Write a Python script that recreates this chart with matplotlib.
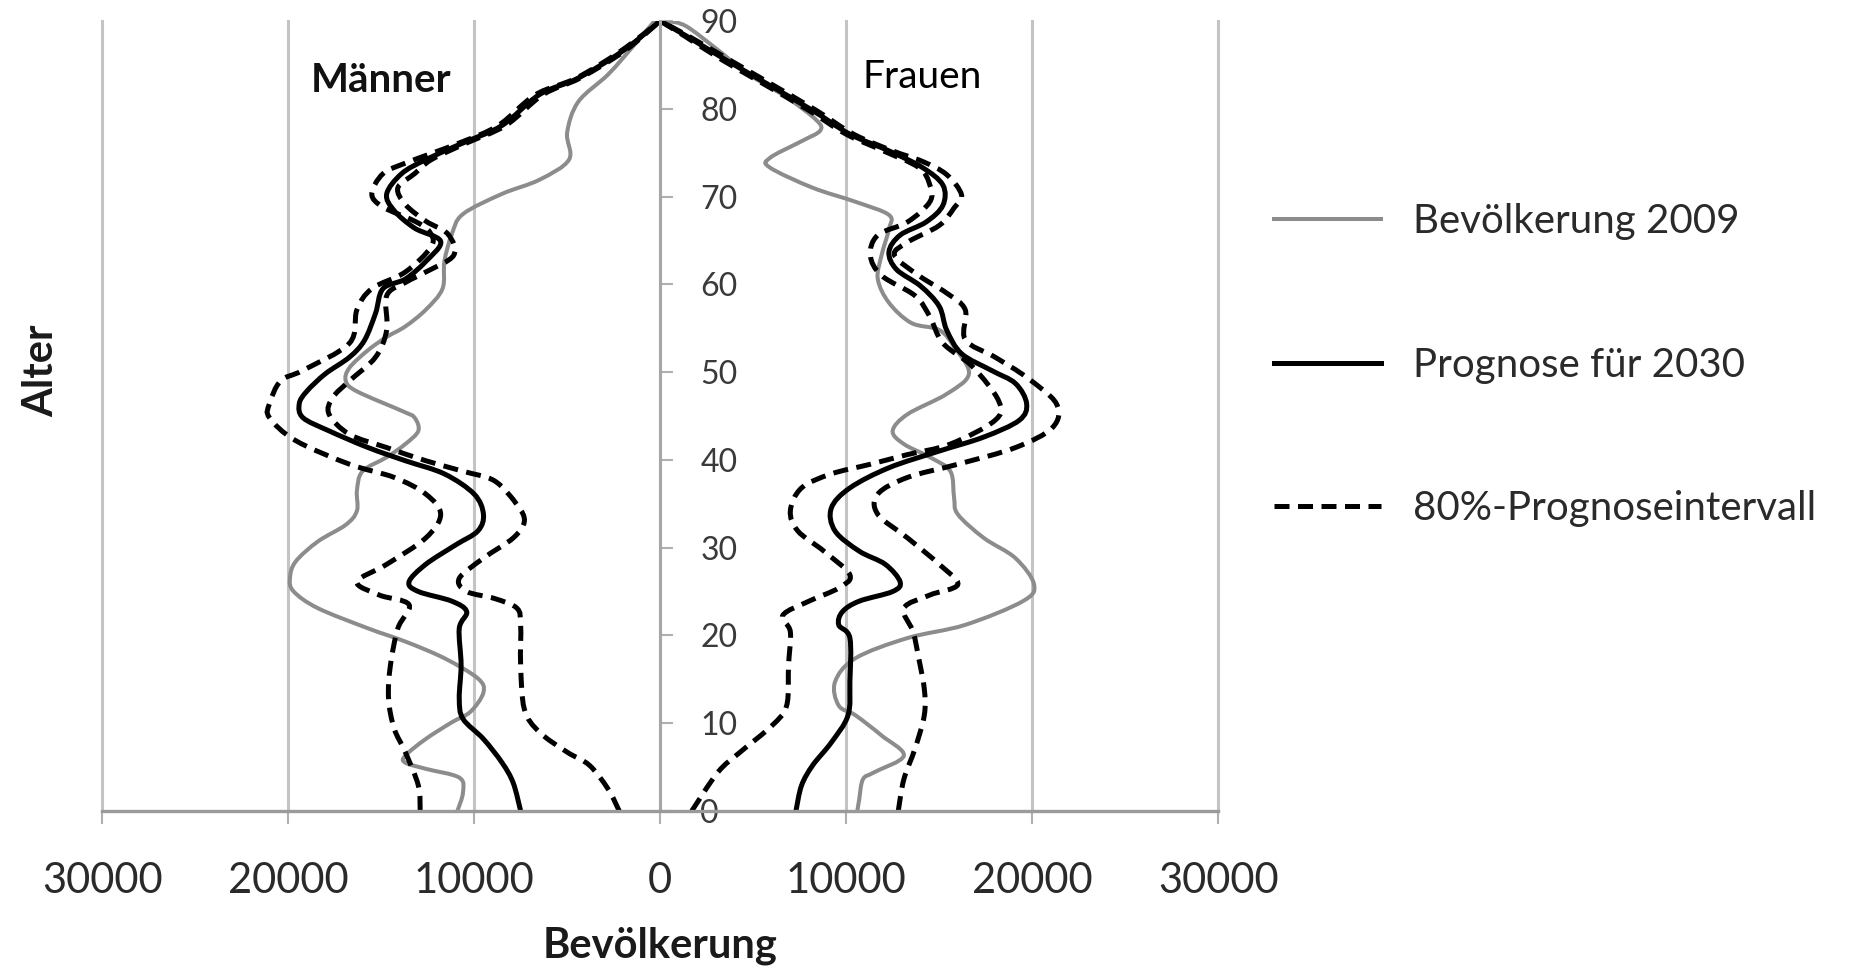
import matplotlib
matplotlib.use("Agg")
import matplotlib.pyplot as plt
from matplotlib.lines import Line2D
from matplotlib.patches import PathPatch
from matplotlib.path import Path
from matplotlib.ticker import FuncFormatter

plt.rcParams["font.family"] = ["Lato", "DejaVu Sans"]

# values in 1000 persons, ages in years
# Männer
m_2009_age = [0, 2.1, 3.8, 4.8, 5.5, 6.3, 8.2, 10.1, 11.3, 13.5, 15.1, 17.4, 19.3, 20.8, 23.1, 25, 26.5,
              28.4, 30.7, 32.6, 34.2, 36.5, 38.7, 40.3, 41.8, 43.3, 44.8, 45.5, 47.8, 49, 50.5, 52.5,
              54, 55.2, 57.1, 59.5, 62.6, 65.7, 68, 70.3, 71.9, 74.2, 77.3, 80.8, 83.9, 87, 90]
m_2009_val = [10.9, 10.6, 10.8, 12.6, 13.7, 13.7, 12.6, 11.2, 10.2, 9.5, 9.8, 11.6, 13.7, 15.7, 18.4, 19.7, 19.9,
              19.6, 18.4, 16.9, 16.3, 16.3, 16.0, 14.7, 13.7, 13.0, 13.2, 13.8, 16.3, 16.9, 16.7, 15.7,
              14.7, 13.7, 12.6, 11.7, 11.6, 11.2, 10.6, 8.5, 6.5, 4.9, 5.0, 4.4, 2.8, 1.5, 0.3]

m_2030_age = [0, 3.2, 5.5, 8.2, 10.5, 12.8, 16.6, 20.8, 22.7, 23.9, 25, 26.1, 28.1, 30.3, 31.9, 33.8,
              36.1, 38.4, 39.9, 41.4, 43.3, 44.8, 46.4, 47.8, 49.8, 51.7, 53.6, 56.7, 59.5, 60.6, 62.6,
              64.9, 66.4, 68.4, 70.3, 72.6, 74.2, 76.1, 78.1, 81.6, 83.5, 86.6, 90]
m_2030_val = [7.5, 7.9, 8.5, 9.5, 10.6, 10.8, 10.7, 10.8, 10.4, 11.2, 13.0, 13.5, 12.6, 11.0, 9.8, 9.5,
              10.0, 11.6, 13.7, 15.7, 17.8, 19.2, 19.4, 19.0, 18.0, 16.7, 15.9, 15.3, 14.9, 13.7, 12.6,
              11.8, 13.2, 14.3, 14.7, 13.9, 12.6, 10.6, 8.5, 6.5, 4.4, 2.0, 0]

m_low_age = [0, 2.5, 5.2, 6.7, 9.0, 11.6, 16.6, 21.2, 23.1, 24.2, 25, 26.5, 28.8, 31.1, 33, 34.9, 37.6,
             38.7, 39.9, 41.4, 42.9, 45.2, 47.1, 49, 51.7, 54.8, 58.7, 60.2, 61.4, 63.3, 65.7, 67.2,
             69.1, 71, 72.6, 74.2, 76.1, 78.1, 81.6, 83.5, 86.6, 90]
m_low_val = [2.2, 2.8, 3.8, 5.0, 6.5, 7.3, 7.5, 7.5, 7.7, 8.9, 10.4, 10.8, 9.5, 7.9, 7.3, 7.7, 8.9,
             10.6, 12.6, 14.7, 16.7, 17.8, 17.6, 16.7, 15.3, 14.7, 14.7, 13.7, 12.6, 11.1, 11.4, 12.6,
             13.7, 14.1, 13.2, 12.3, 10.4, 8.3, 6.3, 4.3, 1.9, 0]

m_high_age = [0, 2.9, 6.7, 9.4, 12.8, 16.6, 20.8, 23.5, 24.6, 26.1, 28.1, 31.1, 33.8, 36.1, 38, 39.5,
              42.2, 44.8, 46.4, 49, 50.2, 53.3, 57.1, 59.5, 61.4, 64.3, 66, 67.2, 68.8, 70.3, 72.6,
              73.8, 76.1, 78.1, 81.6, 83.5, 86.6, 90]
m_high_val = [12.9, 13.0, 13.7, 14.3, 14.6, 14.5, 14.1, 13.5, 15.1, 16.3, 14.7, 12.6, 11.8, 12.6, 14.3, 16.7,
              19.6, 21.0, 21.0, 20.4, 19.2, 16.7, 16.3, 15.5, 13.7, 12.3, 12.4, 13.2, 14.9, 15.5, 14.9,
              13.7, 10.8, 8.7, 6.7, 4.5, 2.1, 0]

# Frauen
f_2009_age = [0, 1.3, 3.6, 4.4, 6.3, 8.6, 10.9, 12, 14.7, 17.4, 19.7, 21.2, 23.9, 25.8, 28.8, 31.1,
              33.8, 35.7, 38.7, 40.3, 41.8, 43.3, 45.2, 47.5, 49.8, 52.9, 54.8, 55.6, 57.9, 60.6, 63.3,
              66.3, 67.9, 69.4, 71, 73.3, 74.4, 76.3, 77.5, 78.7, 81.3, 84, 86.7, 89.4, 90]
f_2009_val = [10.6, 10.7, 10.9, 11.5, 13.1, 11.9, 10.5, 9.6, 9.4, 10.5, 13.3, 16.4, 19.5, 20.1, 19.1, 17.4,
              16.0, 15.8, 15.6, 14.5, 13.1, 12.5, 13.3, 15.4, 16.6, 15.8, 15.0, 13.5, 12.3, 11.7, 11.9,
              12.3, 12.3, 10.5, 8.2, 5.9, 5.9, 7.6, 8.6, 8.4, 6.8, 4.7, 3.1, 1.4, 0.4]

f_2030_age = [0, 2.9, 5.2, 7.8, 10.9, 14.7, 19.7, 21.2, 22.7, 23.9, 25, 26.1, 28.1, 29.6, 31.9, 34.5,
              36.8, 39.1, 41, 42.6, 44.5, 46.4, 48.7, 50.2, 52.1, 54.8, 57.5, 59.8, 61.7, 63.7, 65.6,
              67.1, 69, 71.3, 73.3, 75.2, 77.1, 79.8, 82.9, 85.6, 88.3, 90]
f_2030_val = [7.3, 7.6, 8.2, 9.2, 10.1, 10.2, 10.2, 9.6, 9.8, 10.7, 12.5, 12.9, 12.1, 10.7, 9.4, 9.2,
              10.2, 12.3, 15.0, 17.4, 19.3, 19.7, 19.1, 17.8, 16.2, 15.4, 15.0, 14.0, 12.7, 12.3, 12.9,
              14.3, 15.2, 15.2, 14.1, 12.3, 10.2, 8.2, 5.7, 3.5, 1.4, 0]

f_low_age = [0, 4.4, 6.7, 9.7, 12, 16.6, 20.4, 22.3, 23.9, 25.4, 26.9, 29.6, 31.9, 34.2, 36.8, 38.4,
             39.5, 40.6, 41.8, 44.5, 46.7, 50.6, 53.3, 56.3, 58.7, 61, 63.3, 65.6, 67.1, 69.4, 71.3,
             73.3, 75.2, 77.1, 79.8, 82.9, 85.6, 88.3, 90]
f_low_val = [1.7, 3.1, 4.3, 6.0, 6.8, 6.9, 7.0, 6.6, 8.0, 9.6, 10.2, 8.8, 7.4, 7.0, 7.6, 9.2,
             11.3, 13.3, 15.6, 18.0, 18.2, 16.8, 15.2, 14.5, 13.7, 11.9, 11.3, 11.7, 13.3, 14.5, 14.5,
             13.9, 12.0, 10.0, 8.0, 5.5, 3.3, 1.3, 0]

f_high_age = [0, 3.6, 7.1, 10.9, 13.9, 17.4, 20.4, 23.1, 24.6, 25.8, 28.1, 31.1, 33.8, 36.1, 38, 39.5,
              41.4, 43.7, 46.4, 49.4, 51.7, 53.7, 57.1, 59, 61, 63.3, 64.8, 66.7, 68.7, 70.2, 72.5,
              74, 75.2, 77.1, 79.8, 82.9, 85.6, 88.3, 90]
f_high_val = [12.8, 13.1, 13.7, 14.2, 14.2, 13.9, 13.6, 13.1, 14.5, 16.0, 15.0, 13.3, 11.7, 11.7, 13.3, 16.0,
              19.1, 21.1, 21.3, 19.7, 18.0, 16.4, 16.4, 15.4, 13.9, 12.6, 13.3, 15.0, 15.8, 16.2, 15.4,
              14.1, 12.5, 10.4, 8.4, 5.9, 3.7, 1.5, 0]

age_ticks = list(range(0, 91, 10))
pop_ticks = [-30000, -20000, -10000, 0, 10000, 20000, 30000]
labels = ["Bevölkerung 2009", "Prognose für 2030", "80%-Prognoseintervall"]


def men(vals):
    return [-v * 1000 for v in vals]


def women(vals):
    return [v * 1000 for v in vals]


def smooth_line(ax, xs, ys, **kw):
    # smoothed line like Excel: Catmull-Rom through the points, drawn as Bezier curves
    pts = list(zip(xs, ys))
    n = len(pts)
    verts = [pts[0]]
    codes = [Path.MOVETO]
    for i in range(n - 1):
        p0 = pts[i - 1] if i > 0 else pts[i]
        p1 = pts[i]
        p2 = pts[i + 1]
        p3 = pts[i + 2] if i + 2 < n else pts[i + 1]
        c1 = (p1[0] + (p2[0] - p0[0]) / 6, p1[1] + (p2[1] - p0[1]) / 6)
        c2 = (p2[0] - (p3[0] - p1[0]) / 6, p2[1] - (p3[1] - p1[1]) / 6)
        verts += [c1, c2, p2]
        codes += [Path.CURVE4] * 3
    patch = PathPatch(Path(verts, codes), fill=False, **kw)
    ax.add_patch(patch)


fig = plt.figure(figsize=(18.63, 9.66), dpi=100)
ax = fig.add_axes([0.0548, 0.1605, 0.5991, 0.8178])

gray_kw = dict(edgecolor="#8c8c8c", lw=2.9, capstyle="round", joinstyle="round")
solid_kw = dict(edgecolor="black", lw=3.6, capstyle="round", joinstyle="round")
dash_kw = dict(edgecolor="black", lw=3.6, linestyle=(0, (3.0, 1.7)))

smooth_line(ax, men(m_2009_val), m_2009_age, **gray_kw)
smooth_line(ax, women(f_2009_val), f_2009_age, **gray_kw)
smooth_line(ax, men(m_2030_val), m_2030_age, **solid_kw)
smooth_line(ax, women(f_2030_val), f_2030_age, **solid_kw)
smooth_line(ax, men(m_low_val), m_low_age, **dash_kw)
smooth_line(ax, men(m_high_val), m_high_age, **dash_kw)
smooth_line(ax, women(f_low_val), f_low_age, **dash_kw)
smooth_line(ax, women(f_high_val), f_high_age, **dash_kw)

ax.set_xlim(-30000, 30000)
ax.set_ylim(0, 90)
ax.set_xticks(pop_ticks)
ax.xaxis.set_major_formatter(FuncFormatter(lambda v, p: f"{abs(int(v))}"))
ax.set_yticks(age_ticks)

# age axis sits in the middle, labels to its right
ax.spines["left"].set_visible(False)
ax.spines["top"].set_visible(False)
ax.spines["right"].set_position(("data", 0))
ax.spines["right"].set_color("#a6a6a6")
ax.spines["right"].set_linewidth(2.2)
ax.spines["bottom"].set_color("#9a9a9a")
ax.spines["bottom"].set_linewidth(2.4)
ax.yaxis.set_ticks_position("right")

ax.tick_params(axis="y", direction="out", length=9, width=1.5, color="#b0b0b0",
               labelsize=23, labelcolor="#3a3a3a", pad=20)
ax.tick_params(axis="x", direction="out", length=9, width=1.5, color="#b0b0b0",
               labelsize=30, labelcolor="#2a2a2a", pad=28)

ax.grid(axis="x", color="#c4c4c4", lw=2.2)
ax.grid(axis="y", visible=False)
for gl in ax.get_xgridlines():
    gl.set_clip_on(False)
ax.set_axisbelow(True)

ax.set_xlabel("Bevölkerung", fontsize=30, fontweight="bold", color="#1a1a1a", labelpad=19)
fig.text(41 / 1863, 1 - 371 / 966, "Alter", rotation=90, ha="center", va="center",
         fontsize=30, fontweight="bold", color="#1a1a1a")

ax.text(-15000, 83.2, "Männer", ha="center", va="center", fontsize=29, fontweight="bold", color="#111111")
ax.text(14100, 83.6, "Frauen", ha="center", va="center", fontsize=28, color="#000000")

handles = [
    Line2D([], [], color="#8c8c8c", lw=2.9),
    Line2D([], [], color="black", lw=3.6),
    Line2D([], [], color="black", lw=3.6, linestyle=(0, (3.0, 1.7))),
]
fig.legend(handles, labels, loc="center left", bbox_to_anchor=(0.684, 0.622), frameon=False,
           fontsize=29, handlelength=2.65, handletextpad=0.8, labelspacing=2.65, borderpad=0,
           borderaxespad=0, labelcolor="#2a2a2a")

fig.savefig("out.png", dpi=100)
